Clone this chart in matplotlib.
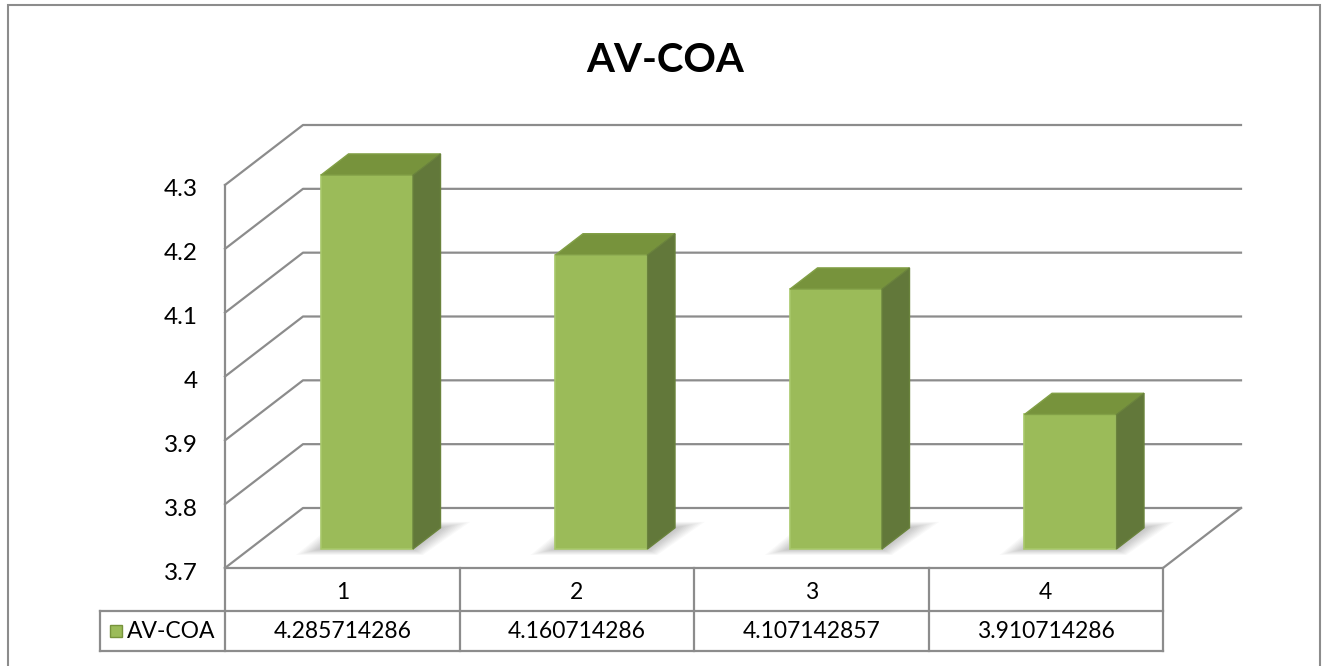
import matplotlib.pyplot as plt
from matplotlib.patches import Polygon, Rectangle
import numpy as np

# data
categories = ['1', '2', '3', '4']
values = [4.285714286, 4.160714286, 4.107142857, 3.910714286]
value_labels = ['4.285714286', '4.160714286', '4.107142857', '3.910714286']
series_name = 'AV-COA'
y_ticks = [3.7, 3.8, 3.9, 4.0, 4.1, 4.2, 4.3]
y_tick_labels = ['3.7', '3.8', '3.9', '4', '4.1', '4.2', '4.3']

plt.rcParams['font.family'] = ['Lato', 'DejaVu Sans']

W, H = 1328, 666
fig = plt.figure(figsize=(W / 100, H / 100), dpi=100)

# front plane of the 3d box in pixels
left_px, right_px, top_px, bottom_px = 225, 1163, 185, 568
ax = fig.add_axes([left_px / W, 1 - bottom_px / H,
                   (right_px - left_px) / W, (bottom_px - top_px) / H])
ymin, ymax = 3.7, 4.3
ax.set_xlim(0.5, 4.5)
ax.set_ylim(ymin, ymax)
ax.axis('off')

x_per_px = 4.0 / (right_px - left_px)
y_per_px = (ymax - ymin) / (bottom_px - top_px)
DX = 78 * x_per_px          # depth offset (x)
DY = 60 * y_per_px          # depth offset (y)

grid_col = '#8c8c8c'
lw = 1.6

# walls / gridlines
for t in y_ticks:
    ax.plot([0.5, 0.5 + DX, 4.5 + DX], [t, t + DY, t + DY],
            color=grid_col, lw=lw, clip_on=False, zorder=1)
ax.plot([0.5, 0.5], [ymin, ymax], color=grid_col, lw=lw, clip_on=False, zorder=1)
ax.plot([0.5, 4.5, 4.5 + DX], [ymin, ymin, ymin + DY],
        color=grid_col, lw=lw, clip_on=False, zorder=1)

# tick labels
for t, lab in zip(y_ticks, y_tick_labels):
    ax.text(0.5 - 27 * x_per_px, t - 5 * y_per_px, lab, ha='right', va='center',
            fontsize=17.5, clip_on=False)

# bars
d0, d1 = 0.317, 0.67
bw = 92 * x_per_px
cats = np.arange(1, len(values) + 1)
xc = cats + d0 * DX
base = ymin + d0 * DY
vals = np.array(values)
front_col, top_col, side_col = '#9bbb59', '#77933c', '#62783a'
ddx, ddy = (d1 - d0) * DX, (d1 - d0) * DY

# soft floor shadows
for xi in xc:
    x0, x1 = xi - bw / 2, xi + bw / 2
    for k in range(10):
        e = (k + 1) * 2.5 * x_per_px
        ey = (k + 1) * 0.6 * y_per_px
        ax.add_patch(Polygon([(x0 - e, base - ey),
                              (x1 + e * 0.4, base - ey),
                              (x1 + ddx + e * 1.2, base + ddy + ey),
                              (x0 + ddx - e * 0.5, base + ddy + ey)],
                             closed=True, facecolor='#000000', alpha=0.022,
                             edgecolor='none', clip_on=False, zorder=2))

ax.bar(xc, vals - ymin, bottom=base, width=bw, color=front_col,
       edgecolor='#a8c86a', linewidth=1.2, zorder=3, clip_on=False)
for xi, v in zip(xc, vals):
    x0, x1 = xi - bw / 2, xi + bw / 2
    top = v + d0 * DY
    ax.add_patch(Polygon([(x0, top), (x1, top), (x1 + ddx, top + ddy), (x0 + ddx, top + ddy)],
                         closed=True, facecolor=top_col, edgecolor='#82a046', lw=1,
                         clip_on=False, zorder=3))
    ax.add_patch(Polygon([(x1, base), (x1, top), (x1 + ddx, top + ddy), (x1 + ddx, base + ddy)],
                         closed=True, facecolor=side_col, edgecolor='#6a833c', lw=1,
                         clip_on=False, zorder=3))

# data table below the plot
row1 = ymin - 43 * y_per_px
row2 = ymin - 83 * y_per_px
tab_left = 0.5 - 125 * x_per_px
edges = np.arange(0.5, 4.6, 1.0)
for e in edges:
    ax.plot([e, e], [ymin, row2], color=grid_col, lw=lw, clip_on=False)
ax.plot([tab_left, 4.5], [row1, row1], color=grid_col, lw=lw, clip_on=False)
ax.plot([tab_left, 4.5], [row2, row2], color=grid_col, lw=lw, clip_on=False)
ax.plot([tab_left, tab_left], [row1, row2], color=grid_col, lw=lw, clip_on=False)
for c, lab, vl in zip(cats, categories, value_labels):
    ax.text(c, (ymin + row1) / 2 - 3 * y_per_px, lab, ha='center', va='center',
            fontsize=16.5, clip_on=False)
    ax.text(c, (row1 + row2) / 2, vl, ha='center', va='center',
            fontsize=16.5, clip_on=False)
# legend key in table
ax.add_patch(Rectangle((tab_left + 10 * x_per_px, (row1 + row2) / 2 - 6 * y_per_px),
                       12 * x_per_px, 12 * y_per_px, facecolor=front_col,
                       edgecolor='#77933c', lw=1, clip_on=False))
ax.text(tab_left + 27 * x_per_px, (row1 + row2) / 2, series_name, ha='left', va='center',
        fontsize=16.5, clip_on=False)

# title
fig.text(665 / W, 1 - 60 / H, 'AV-COA', ha='center', va='center',
         fontsize=29, fontweight='bold')

# chart border
fig.add_artist(Rectangle((8 / W, -0.1), (1320 - 8) / W, 1.1 - 5 / H,
                         transform=fig.transFigure, fill=False,
                         edgecolor='#8c8c8c', lw=1.5))

fig.savefig('out.png', dpi=100)
